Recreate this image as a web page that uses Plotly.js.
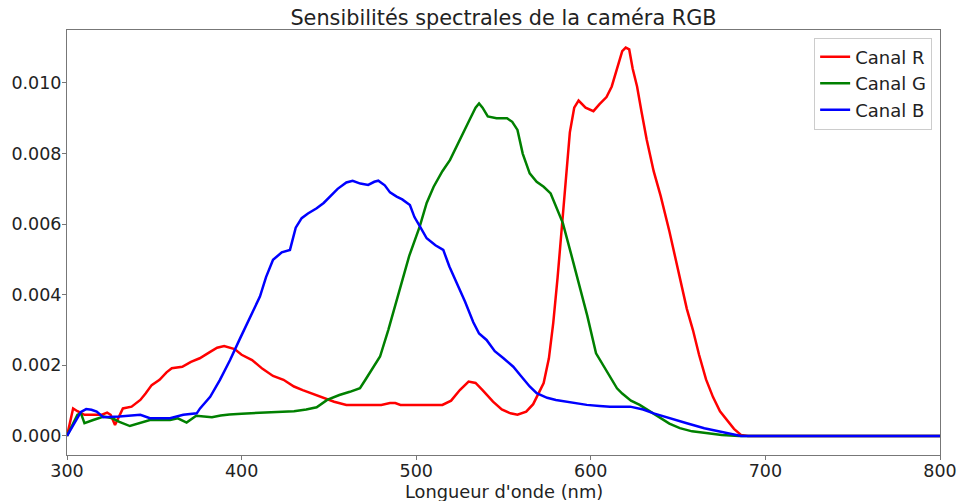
<!DOCTYPE html>
<html>
<head>
<meta charset="utf-8">
<script src="https://cdn.plot.ly/plotly-3.0.1.min.js"></script>
<style>html,body{margin:0;padding:0;background:#fff;}#chart{width:957px;height:501px;}</style>
</head>
<body>
<div id="chart"></div>
<script>
const redX = [300,303.5,306,310,315,320,323,325,327.5,330,332,337,342,345,348.5,353,357,360,366,371,376,382,386,390,393,396,400,406,412,418,424,430,435,440,446,453,460,468,475,480,485,488,491,500,510,515,520,525,530,534,538,544,549,554,558,563,567,570,573,576,578.5,581,583.5,586,588,590.5,593,597,601.5,605,609,612,615,618,620,622,624,626.5,629,632,636,640,645,649,652,655,658.5,662,666,670,674,678,682,686,690,700,800];
const redY = [0,0.00078,0.0007,0.0006,0.0006,0.0006,0.00066,0.0006,0.00031,0.0006,0.00078,0.00083,0.00102,0.0012,0.00144,0.00159,0.0018,0.00192,0.00196,0.0021,0.0022,0.00238,0.0025,0.00255,0.0025,0.00246,0.0023,0.00215,0.0019,0.0017,0.00159,0.0014,0.0013,0.00121,0.0011,0.00097,0.00088,0.00088,0.00088,0.00088,0.00093,0.00093,0.00088,0.00088,0.00088,0.00088,0.001,0.0013,0.00154,0.0015,0.0013,0.00097,0.00075,0.00064,0.0006,0.00069,0.0009,0.0012,0.0015,0.0022,0.0032,0.0045,0.006,0.0075,0.0086,0.0093,0.0095,0.0093,0.0092,0.0094,0.0096,0.0099,0.0104,0.0109,0.011,0.01095,0.0104,0.0099,0.0092,0.0084,0.0075,0.0068,0.0058,0.0049,0.0042,0.0036,0.003,0.0023,0.0016,0.0011,0.0007,0.00045,0.0002,0.00003,0,0,0];

const greenX = [300,303,306,308,310,315,321,326,330,336,342,347.5,353,359,363.5,368.5,374,378,383,388,393,400,410,420,430,437,443,449,456,462,467.8,471,475,479.3,484,490.7,496,502,506,510,515,519.4,523,527,531,534,536,538,541,546,552,555,558,561,565,569,573,577,580,584,589,594,598,603,607,611,615,618,623,628,634,640,645,651,658,666,675,685,800];
const greenY = [0,0.0003,0.0006,0.00064,0.00036,0.00045,0.00055,0.0005,0.0004,0.00028,0.00038,0.00045,0.00046,0.00045,0.0005,0.00038,0.00057,0.00055,0.00053,0.00058,0.00061,0.00063,0.00066,0.00068,0.0007,0.00075,0.00081,0.00102,0.00116,0.00125,0.00135,0.0016,0.0019,0.00225,0.003,0.00414,0.0051,0.00593,0.0066,0.00706,0.0075,0.00782,0.0082,0.00858,0.009,0.0093,0.00942,0.0093,0.00905,0.009,0.009,0.0089,0.00867,0.008,0.00744,0.0072,0.00706,0.00687,0.0065,0.00603,0.0051,0.00414,0.0034,0.00234,0.002,0.00168,0.00135,0.0012,0.001,0.00088,0.0007,0.0005,0.00035,0.00022,0.00013,0.00008,0.00003,0,0];

const blueX = [300,305,308,311,314,317,320.8,330,336,342,347.5,359,366.6,374.3,376.2,382,387.6,393.4,399,404.8,410.5,414,418,423,427.7,431,434.4,438,443,447,450.6,455,460,463.6,468,472.5,476,478.3,482,485,488.8,492,496.4,499,502.2,506,511,515.5,519,523.2,528,532.7,536,540.3,545,550,555.6,560,565,569,575,580,586,592,597.7,605,611,622.5,630,636,645,655,665,674,680,686,800];
const blueY = [0,0.0004,0.00068,0.00076,0.00074,0.00069,0.00053,0.00055,0.00058,0.0006,0.0005,0.0005,0.0006,0.00064,0.00078,0.00111,0.00159,0.00215,0.00275,0.00338,0.00395,0.0045,0.00499,0.0052,0.00527,0.0059,0.00617,0.0063,0.00645,0.0066,0.00678,0.007,0.00718,0.00723,0.00715,0.00711,0.0072,0.00723,0.0071,0.0069,0.00678,0.0067,0.00654,0.0062,0.00593,0.0056,0.0054,0.00527,0.0048,0.00433,0.0038,0.00322,0.0029,0.00272,0.0024,0.0022,0.00196,0.0017,0.0014,0.00121,0.00108,0.00102,0.00097,0.00092,0.00088,0.00085,0.00083,0.00083,0.00075,0.00064,0.0005,0.00036,0.00022,0.00012,0.00005,0,0];

const seriesNames = ['Canal R','Canal G','Canal B'];
const xTicks = [300,400,500,600,700,800];
const yTicks = [0,0.002,0.004,0.006,0.008,0.010];
const yTickText = ['0.000','0.002','0.004','0.006','0.008','0.010'];

const font = 'DejaVu Sans, sans-serif';
const traces = [
  {x: redX, y: redY, name: seriesNames[0], mode: 'lines', line: {color: '#ff0000', width: 2.5}},
  {x: greenX, y: greenY, name: seriesNames[1], mode: 'lines', line: {color: '#008000', width: 2.5}},
  {x: blueX, y: blueY, name: seriesNames[2], mode: 'lines', line: {color: '#0000ff', width: 2.5}}
];
const layout = {
  width: 957, height: 501,
  margin: {l: 67, r: 17, t: 30, b: 46},
  paper_bgcolor: '#fff', plot_bgcolor: '#fff',
  font: {family: font, size: 17.5, color: '#222'},
  title: {text: 'Sensibilités spectrales de la caméra RGB', font: {family: font, size: 20.8, color: '#222'}, x: 0.5, xref: 'paper', xanchor: 'center', y: 0.964, yref: 'container', yanchor: 'middle'},
  xaxis: {
    range: [300, 800], tickvals: xTicks, ticktext: xTicks.map(String),
    showgrid: false, zeroline: false, showline: true, mirror: true, linecolor: '#777', linewidth: 1,
    ticks: 'outside', ticklen: 4, tickcolor: '#777', tickfont: {size: 17.5}, ticklabelstandoff: -4
  },
  yaxis: {
    range: [-0.00054, 0.0115], tickvals: yTicks, ticktext: yTickText,
    showgrid: false, zeroline: false, showline: true, mirror: true, linecolor: '#777', linewidth: 1,
    ticks: 'outside', ticklen: 4, tickcolor: '#777', tickfont: {size: 17.5}, ticklabelstandoff: -3
  },
  annotations: [
    {text: "Longueur d'onde (nm)", xref: 'paper', yref: 'paper', x: 0.5, xanchor: 'center', y: -0.085, yanchor: 'middle', showarrow: false, font: {size: 17.8, color: '#222'}}
  ],
  legend: {x: 0.991, xanchor: 'right', y: 0.982, yanchor: 'top', bgcolor: 'rgba(255,255,255,0.8)', bordercolor: '#ccc', borderwidth: 1, font: {size: 18}},
  showlegend: true
};
Plotly.newPlot('chart', traces, layout, {displayModeBar: false, staticPlot: true});
</script>
</body>
</html>
